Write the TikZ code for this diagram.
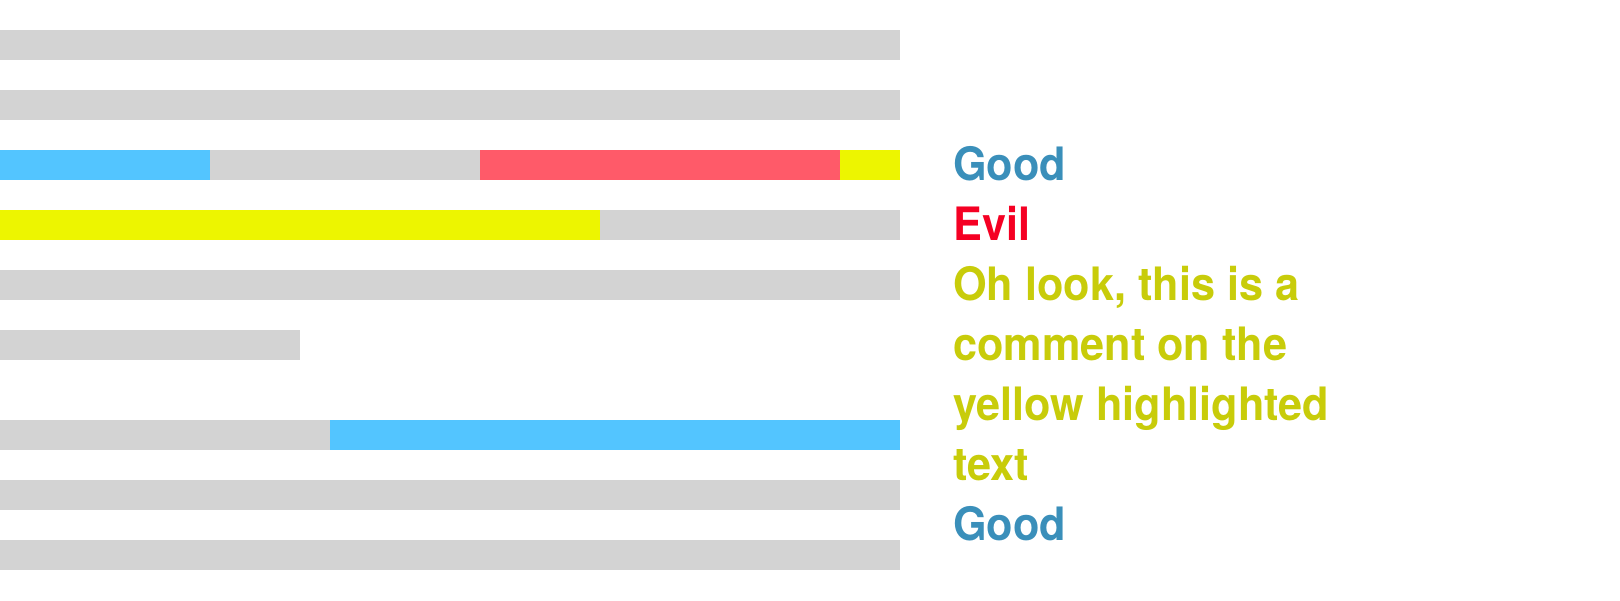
\documentclass[tikz,border=0pt]{standalone}
\usepackage{fontspec}
\setmainfont{TeX Gyre Heros}
\newfontfamily\labelfont{TeX Gyre Heros Bold}[FakeStretch=0.94]
\definecolor{bargray}{HTML}{D3D3D3}
\definecolor{barblue}{HTML}{53C5FF}
\definecolor{barred}{HTML}{FF5A69}
\definecolor{baryellow}{HTML}{EDF500}
\definecolor{goodcol}{HTML}{3A8FBA}
\definecolor{evilcol}{HTML}{F50023}
\definecolor{notecol}{HTML}{C8CC0A}
\tikzset{
  label/.style={anchor=base west, inner sep=0pt, font=\fontsize{46}{60}\labelfont},
}
\begin{document}
\begin{tikzpicture}[x=1pt,y=-1pt]
\useasboundingbox (0,0) rectangle (1620,600);
\fill[white] (0,0) rectangle (1620,600);
% bars
\fill[bargray] (0,30) rectangle (900,60);
\fill[bargray] (0,90) rectangle (900,120);
\fill[barblue] (0,150) rectangle (210,180);
\fill[bargray] (210,150) rectangle (480,180);
\fill[barred] (480,150) rectangle (840,180);
\fill[baryellow] (840,150) rectangle (900,180);
\fill[baryellow] (0,210) rectangle (600,240);
\fill[bargray] (600,210) rectangle (900,240);
\fill[bargray] (0,270) rectangle (900,300);
\fill[bargray] (0,330) rectangle (300,360);
\fill[bargray] (0,420) rectangle (330,450);
\fill[barblue] (330,420) rectangle (900,450);
\fill[bargray] (0,480) rectangle (900,510);
\fill[bargray] (0,540) rectangle (900,570);
% labels
\node[label, text=goodcol] (good1) at (953,180) {Good};
\node[label, text=evilcol] (evil) at (953,240) {Evil};
\node[label, text=notecol] (c1) at (953,300) {Oh look, this is a};
\node[label, text=notecol] (c2) at (953,360) {comment on the};
\node[label, text=notecol] (c3) at (953,420) {yellow highlighted};
\node[label, text=notecol] (c4) at (953,480) {text};
\node[label, text=goodcol] (good2) at (953,540) {Good};
\end{tikzpicture}
\end{document}
